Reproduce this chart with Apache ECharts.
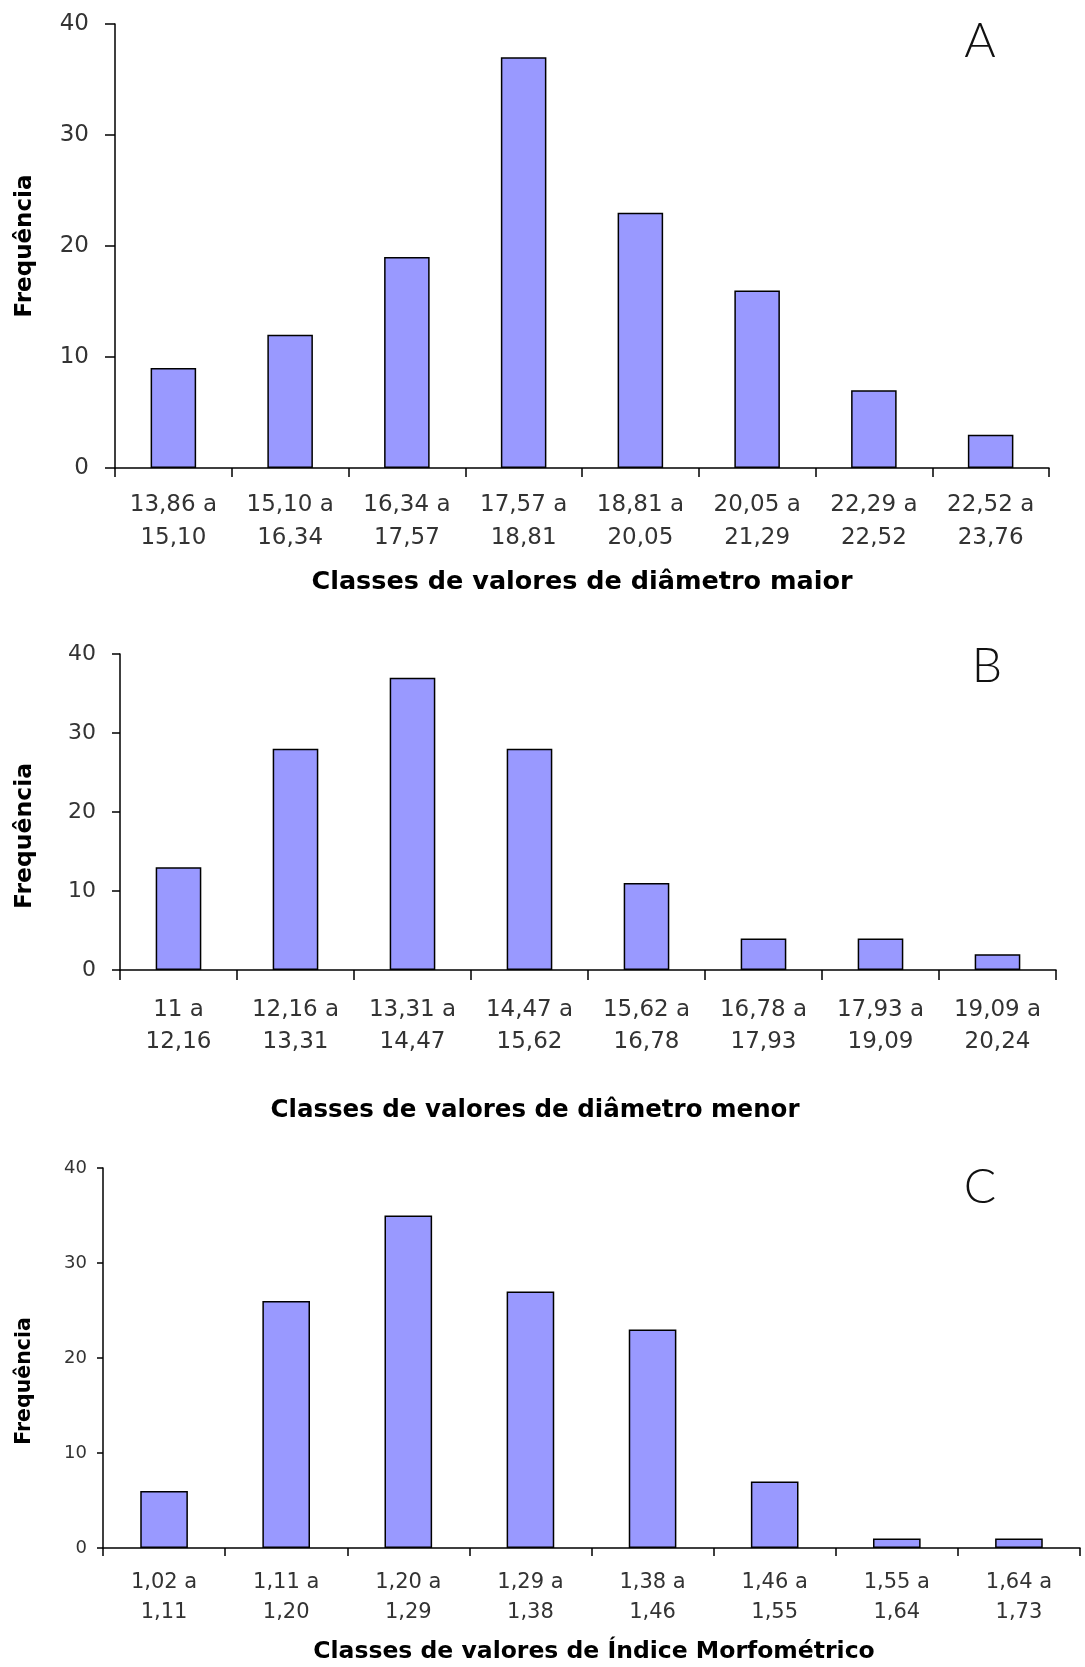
<!DOCTYPE html>
<html>
<head>
<meta charset="utf-8">
<script src="https://cdn.jsdelivr.net/npm/echarts@6/dist/echarts.min.js"></script>
<style>
  html, body { margin: 0; padding: 0; background: #fff; }
  #chart { width: 1085px; height: 1667px; }
</style>
</head>
<body>
<div id="chart"></div>
<script>
// ---- Data ----
const categoriesA = ["13,86 a\n15,10", "15,10 a\n16,34", "16,34 a\n17,57", "17,57 a\n18,81", "18,81 a\n20,05", "20,05 a\n21,29", "22,29 a\n22,52", "22,52 a\n23,76"];
const valuesA = [9, 12, 19, 37, 23, 16, 7, 3];

const categoriesB = ["11 a\n12,16", "12,16 a\n13,31", "13,31 a\n14,47", "14,47 a\n15,62", "15,62 a\n16,78", "16,78 a\n17,93", "17,93 a\n19,09", "19,09 a\n20,24"];
const valuesB = [13, 28, 37, 28, 11, 4, 4, 2];

const categoriesC = ["1,02 a\n1,11", "1,11 a\n1,20", "1,20 a\n1,29", "1,29 a\n1,38", "1,38 a\n1,46", "1,46 a\n1,55", "1,55 a\n1,64", "1,64 a\n1,73"];
const valuesC = [6, 26, 35, 27, 23, 7, 1, 1];

const titleA = "Classes de valores de diâmetro maior";
const titleB = "Classes de valores de diâmetro menor";
const titleC = "Classes de valores de Índice Morfométrico";
const yName = "Frequência";
const panelLetters = ["A", "B", "C"];

// ---- Chart ----
const FONT = "DejaVu Sans";
const chart = echarts.init(document.getElementById('chart'), null, { renderer: 'canvas' });

function xAxisCfg(idx, cats, fs, lh, margin, tickLen) {
  return {
    type: 'category', gridIndex: idx, data: cats,
    axisLine: { show: true, lineStyle: { color: '#000', width: 1.5 } },
    axisTick: { show: true, alignWithLabel: false, length: tickLen, lineStyle: { color: '#000', width: 1.5 } },
    axisLabel: { fontFamily: FONT, fontSize: fs, lineHeight: lh, color: '#333', margin: margin, interval: 0 },
    splitLine: { show: false }
  };
}
function yAxisCfg(idx, fs, margin, tickLen) {
  return {
    type: 'value', gridIndex: idx, min: 0, max: 40, interval: 10,
    axisLine: { show: true, lineStyle: { color: '#000', width: 1.5 } },
    axisTick: { show: true, length: tickLen, lineStyle: { color: '#000', width: 1.5 } },
    axisLabel: { fontFamily: FONT, fontSize: fs, color: '#333', margin: margin },
    splitLine: { show: false }
  };
}
function seriesCfg(idx, vals) {
  return {
    type: 'bar', xAxisIndex: idx, yAxisIndex: idx, data: vals,
    barWidth: '39%',
    itemStyle: { color: '#9999FF', borderColor: '#000', borderWidth: 1.5 },
    silent: true
  };
}
function txt(x, y, text, fs, weight, extra) {
  return Object.assign({
    type: 'text', x: x, y: y,
    style: { text: text, fontFamily: FONT, fontSize: fs, fontWeight: weight, fill: '#000', align: 'center', verticalAlign: 'middle' }
  }, extra || {});
}

const option = {
  animation: false,
  backgroundColor: '#fff',
  grid: [
    { left: 115, top: 24, width: 934, height: 444 },
    { left: 120, top: 654, width: 936, height: 316 },
    { left: 103, top: 1168, width: 977, height: 380 }
  ],
  xAxis: [
    xAxisCfg(0, categoriesA, 23, 33, 21, 9),
    xAxisCfg(1, categoriesB, 23, 32, 24, 10),
    xAxisCfg(2, categoriesC, 21, 30, 20, 8)
  ],
  yAxis: [
    yAxisCfg(0, 23, 26, 10),
    yAxisCfg(1, 22, 24, 8),
    yAxisCfg(2, 18, 16, 6)
  ],
  series: [
    seriesCfg(0, valuesA),
    seriesCfg(1, valuesB),
    seriesCfg(2, valuesC)
  ],
  graphic: [
    txt(582, 582, titleA, 25.5, 'bold'),
    txt(535, 1111, titleB, 24.5, 'bold'),
    txt(594, 1652, titleC, 23.5, 'bold'),
    txt(25, 246, yName, 23, 'bold', { rotation: Math.PI / 2 }),
    txt(25, 836, yName, 23.5, 'bold', { rotation: Math.PI / 2 }),
    txt(25, 1381, yName, 20.5, 'bold', { rotation: Math.PI / 2 }),
    { type: 'text', x: 980, y: 42, style: { text: panelLetters[0], fontFamily: 'Lato', fontWeight: 300, fontSize: 48, fill: '#111', align: 'center', verticalAlign: 'middle' } },
    { type: 'text', x: 987, y: 667, style: { text: panelLetters[1], fontFamily: 'Lato', fontWeight: 300, fontSize: 48, fill: '#111', align: 'center', verticalAlign: 'middle' } },
    { type: 'text', x: 980, y: 1188, style: { text: panelLetters[2], fontFamily: 'Lato', fontWeight: 300, fontSize: 48, fill: '#111', align: 'center', verticalAlign: 'middle' } }
  ]
};
chart.setOption(option);
</script>
</body>
</html>
